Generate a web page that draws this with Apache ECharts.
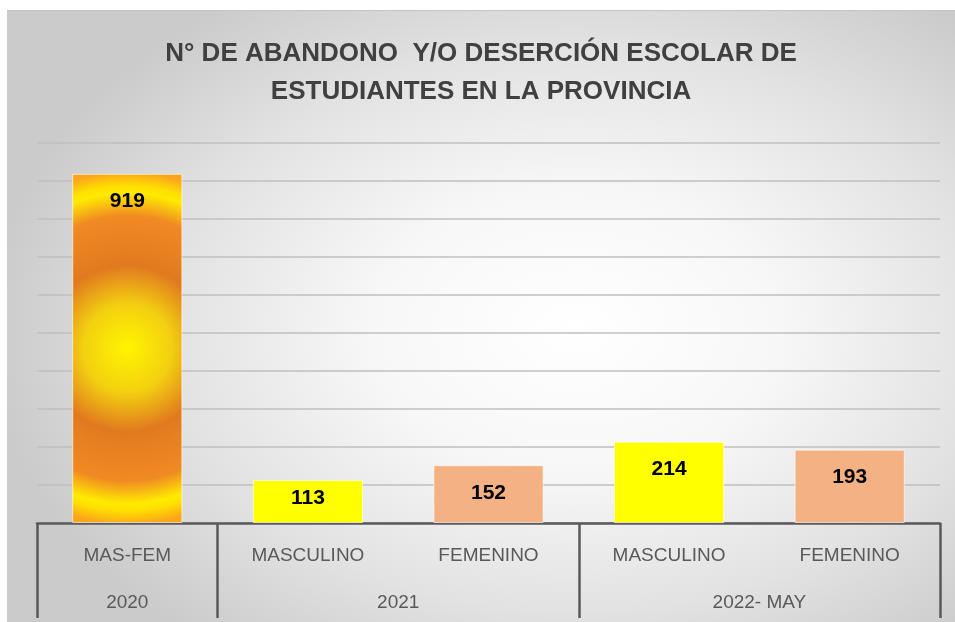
<!DOCTYPE html>
<html>
<head>
    <meta charset="UTF-8">
    <title>abandono</title>
    <script src="https://cdn.jsdelivr.net/npm/echarts@6/dist/echarts.min.js"></script>
    <style>
        *{margin:0;padding:0}
        html,body{width:100%;height:100%;background:#fff;overflow:hidden}
        #main{
            position:absolute;
            left:7px;
            top:10px;
            width:948px;
            height:612px;
            background:radial-gradient(ellipse 62% 66% at 60% 52%, #ffffff 0%, #f7f7f7 35%, #e2e2e2 70%, #cbcbcb 100%);
            border-top:1px solid #c4c4c4;
        }
    </style>
</head>
<body>
<div id="main"></div>
<script type="text/javascript">
    // datos
    var categorias = ['MAS-FEM', 'MASCULINO', 'FEMENINO', 'MASCULINO', 'FEMENINO'];
    var valores = [919, 113, 152, 214, 193];
    var anios = ['2020', '2021', '2022- MAY'];
    var barrasPorAnio = [1, 2, 2];

    // colores de cada barra
    var naranja = {
        type: 'radial', x: 0.5, y: 0.5, r: 1.6,
        colorStops: [
            {offset: 0, color: '#fff500'},
            {offset: 0.25, color: '#f3d010'},
            {offset: 0.47, color: '#e17a1f'},
            {offset: 0.75, color: '#f08a23'},
            {offset: 0.88, color: '#ffea00'},
            {offset: 0.92, color: '#ffe000'},
            {offset: 1, color: '#fba51a'}
        ]
    };
    var colores = [naranja, '#ffff00', '#f4b183', '#ffff00', '#f4b183'];
    // separacion de la etiqueta respecto al borde superior de la barra
    var sepEtiqueta = [17, 8, 17, 17, 17];

    // limites de cada grupo de anio y centro de cada etiqueta
    var limites = [0];
    var centros = [];
    barrasPorAnio.forEach(function (n) {
        var ini = limites[limites.length - 1];
        limites.push(ini + n);
        centros.push(ini + n / 2);
    });

    var myChart = echarts.init(document.getElementById('main'));

    var option = {
        animation: false,
        title: {
            text: 'N° DE ABANDONO  Y/O DESERCIÓN ESCOLAR DE\nESTUDIANTES EN LA PROVINCIA',
            left: 'center',
            top: 19,
            textStyle: {
                fontFamily: 'Liberation Sans',
                fontWeight: 'bold',
                fontSize: 26,
                lineHeight: 38,
                color: '#404040'
            }
        },
        grid: {left: 30, right: 15, top: 132, bottom: 100},
        xAxis: [
            {
                type: 'category',
                data: categorias,
                axisLine: {lineStyle: {color: '#595959', width: 2.5}},
                axisTick: {show: false},
                axisLabel: {
                    margin: 23,
                    fontFamily: 'Liberation Sans',
                    fontSize: 19,
                    color: '#595959'
                }
            },
            {
                type: 'value',
                position: 'bottom',
                min: 0,
                max: categorias.length,
                axisLine: {show: false},
                splitLine: {show: false},
                axisTick: {
                    show: true,
                    customValues: limites,
                    length: 95,
                    lineStyle: {color: '#595959', width: 2.5}
                },
                axisLabel: {
                    customValues: centros,
                    margin: 70,
                    fontFamily: 'Liberation Sans',
                    fontSize: 19,
                    color: '#595959',
                    formatter: function (v) {
                        return anios[centros.indexOf(v)];
                    }
                }
            }
        ],
        yAxis: {
            type: 'value',
            min: 0,
            max: 1000,
            interval: 100,
            axisLine: {show: false},
            axisTick: {show: false},
            axisLabel: {show: false},
            splitLine: {lineStyle: {color: '#bfbfbf', width: 1.5}}
        },
        series: [
            {
                type: 'bar',
                xAxisIndex: 0,
                barWidth: '61%',
                data: valores.map(function (v, i) {
                    return {
                        value: v,
                        itemStyle: {color: colores[i]},
                        label: {distance: sepEtiqueta[i]}
                    };
                }),
                itemStyle: {borderColor: 'rgba(255,255,255,0.6)', borderWidth: 1},
                label: {
                    show: true,
                    position: 'insideTop',
                    fontFamily: 'Liberation Sans',
                    fontWeight: 'bold',
                    fontSize: 21,
                    color: '#000'
                }
            }
        ]
    };
    myChart.setOption(option);
</script>
</body>
</html>
